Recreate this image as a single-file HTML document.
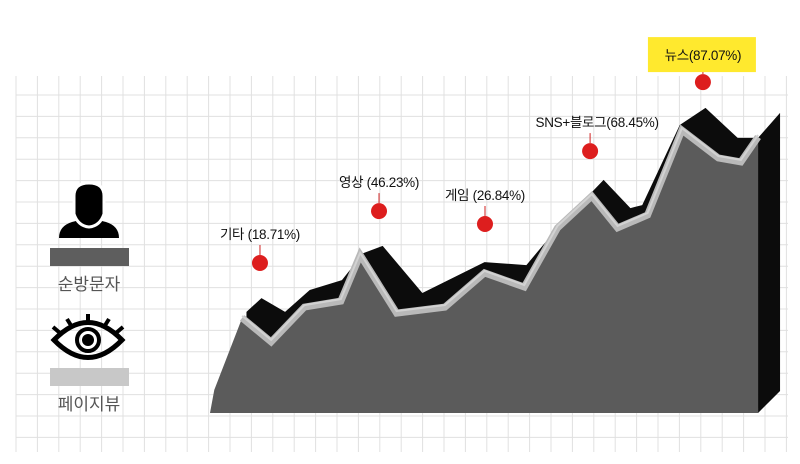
<!DOCTYPE html>
<html><head><meta charset="utf-8"><style>
body{margin:0;background:#fff;width:800px;height:464px;overflow:hidden;font-family:"Liberation Sans","Noto Sans CJK KR",sans-serif}
svg{display:block}
</style></head><body>
<svg id="chart" width="800" height="464" viewBox="0 0 800 464" xmlns="http://www.w3.org/2000/svg">
<g id="grid"></g>
<g id="legend">
  <g>
    <path d="M59 238 Q59 226 72 222 L84 219 L94 219 L106 222 Q119 226 119 238 Z" fill="#000"/>
    <path d="M74 196 Q74 183 89 183 Q104 183 104 196 L104 214 Q100 226 89 227 Q78 226 74 214 Z" fill="#000" stroke="#fff" stroke-width="3"/>
  </g>
  <rect x="50" y="248" width="79" height="18" fill="#5e5e5e"/>
  <text x="89" y="290" text-anchor="middle" font-size="17" fill="#555">순방문자</text>
  <g fill="none" stroke="#000">
    <path d="M54 340 Q88 305 122 340 Q88 375 54 340 Z" stroke-width="5"/>
    <circle cx="88" cy="340" r="11" stroke-width="4"/>
    <circle cx="88" cy="340" r="6" fill="#000" stroke="none"/>
    <path d="M88 322 L88 314 M72 327 L67 319 M104 327 L109 319 M60 333 L53 327 M116 333 L123 327" stroke-width="4"/>
  </g>
  <rect x="50" y="368" width="79" height="18" fill="#c8c8c8"/>
  <text x="89" y="410" text-anchor="middle" font-size="17" fill="#555">페이지뷰</text>
</g>
<g id="plot"></g>
<g id="labels"></g>
</svg>
<script>
// data
const frontX = [2, 15, 28.5, 44, 61, 70, 87, 109.5, 128, 146.5, 162, 178, 190, 204, 220, 237, 247.5, 255.5];
const frontV = [7.7, 31.7, 23.7, 35.3, 37.3, 52.7, 33.3, 35.3, 46.7, 42, 61.7, 72.3, 61.7, 66, 94.3, 85, 83.7, 92];
const backX = [17, 24, 35, 46.5, 61.5, 71.5, 80.5, 99, 128, 147.5, 162, 183.5, 196, 201.5, 219, 231, 246, 255.5];
const backV = [33.7, 38.3, 33.7, 41, 44.3, 53.3, 55.7, 40, 50.3, 49.3, 61.7, 77.7, 68.3, 69.3, 96, 101.7, 91.7, 91.7];
const annCats = ["기타 (18.71%)", "영상 (46.23%)", "게임 (26.84%)", "SNS+블로그(68.45%)", "뉴스(87.07%)"];
const annX = [23.3, 78.8, 128.2, 177.2, 229.8];
const annV = [50, 67.3, 63, 87.3, 110.3];
// scales
const X0 = 210, KX = 2.145, Y0 = 413, KY = 3;
const sx = v => X0 + v * KX;
const sy = v => Y0 - v * KY;
const NS = "http://www.w3.org/2000/svg";
function mk(tag, attrs, parent) { const e = document.createElementNS(NS, tag); for (const k in attrs) e.setAttribute(k, attrs[k]); parent.appendChild(e); return e; }
// grid
const grid = document.getElementById('grid');
for (let i = 0; i < 37; i++) { const x = 16 + i * 21.4; const l = mk('line', {x1: x, y1: 76, x2: x, y2: 452, stroke: '#e0e0e0', 'stroke-width': 1}, grid);
  
   }
for (let j = 0; j < 17; j++) { const y = 95 + j * 21.4; const l = mk('line', {x1: 16, y1: y, x2: 788, y2: y, stroke: '#e0e0e0', 'stroke-width': 1}, grid);
  
   }
const plot = document.getElementById('plot');
// right side face
const lastX = sx(frontX[frontX.length - 1]), lastBack = sy(backV[backV.length - 1]);
const side = mk('polygon', {points: `${lastX},${Y0} ${lastX},${lastBack} ${lastX + 22},${lastBack - 25} ${lastX + 22},${Y0 - 22}`, fill: '#0c0c0c'}, plot);


// back (visitor) area
let bp = backX.map((x, i) => sx(x) + ',' + sy(backV[i])).join(' ');
bp += ` ${sx(backX[backX.length - 1])},${Y0} ${sx(backX[0])},${Y0}`;
const back = mk('polygon', {points: bp, fill: '#0c0c0c'}, plot);


// front (pageview) area
let fp = frontX.map((x, i) => sx(x) + ',' + sy(frontV[i])).join(' ');
const front = mk('polygon', {points: fp + ` ${lastX},${Y0} ${sx(0)},${Y0}`, fill: '#5b5b5b'}, plot);


const line = mk('polyline', {points: frontX.slice(1).map((x, i) => sx(x) + ',' + sy(frontV[i + 1])).join(' '), fill: 'none', stroke: '#b9b9b9', 'stroke-width': 7, 'stroke-linejoin': 'miter'}, plot);


const line2 = mk('polyline', {points: frontX.slice(1).map((x, i) => sx(x) + ',' + (sy(frontV[i + 1]) - 2)).join(' '), fill: 'none', stroke: '#d2d2d2', 'stroke-width': 2}, plot);


// annotations
const lab = document.getElementById('labels');
annCats.forEach((c, i) => {
  const x = sx(annX[i]), y = sy(annV[i]);
  const g = mk('g', {}, lab);
  
  
  mk('line', {x1: x, y1: y - 18, x2: x, y2: y - 8, stroke: '#d02020', 'stroke-width': 1}, g);
  const d = mk('circle', {cx: x, cy: y, r: 8, fill: '#dd1e1e'}, g);
  
  
  if (i === annCats.length - 1) {
    const r = mk('rect', {x: x - 55, y: y - 45, width: 108, height: 35, fill: '#ffe92e'}, g);
    
    
  }
  const t = mk('text', {x: x + (i === 3 ? 7 : 0), y: i === 4 ? y - 22 : y - 24, 'text-anchor': 'middle', 'font-size': 13.5, fill: '#111', 'letter-spacing': '-0.3'}, g);
  t.textContent = c;
  
  
});
</script>
</body></html>
